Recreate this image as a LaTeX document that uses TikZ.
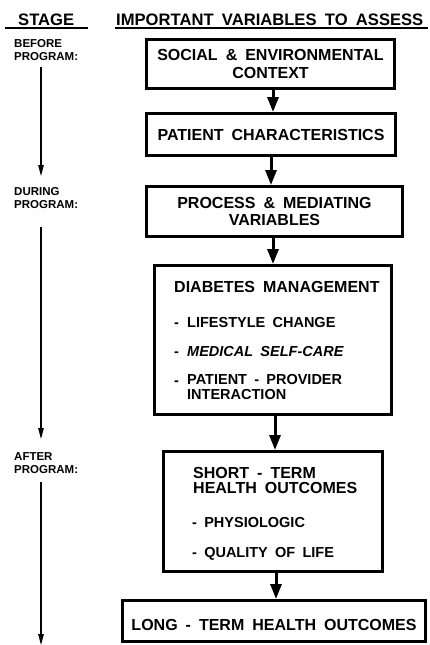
\documentclass[tikz,border=0pt]{standalone}
\usepackage{fontspec}
\setmainfont{Liberation Sans}[WordSpace=1.8]
\usetikzlibrary{arrows.meta}
\begin{document}
\begin{tikzpicture}[x=1pt,y=-1pt,
  box/.style={draw, line width=3pt, inner sep=0pt, align=center, big},
  flow/.style={line width=3pt, -{Triangle[length=15pt,width=11pt]}},
  stagearrow/.style={line width=1.3pt, -{Triangle[length=11pt,width=5.5pt]}},
  big/.style={font=\fontsize{16}{17.5}\selectfont\bfseries},
  head/.style={font=\fontsize{16.6}{17}\selectfont\bfseries},
  item/.style={font=\fontsize{14.5}{14.5}\selectfont\bfseries},
  lab/.style={font=\fontsize{11.5}{12.5}\selectfont\bfseries, align=left, anchor=base west, inner sep=0pt},
  txt/.style={anchor=base west, inner sep=0pt, align=left},
  uline/.style={line width=1.3pt}
]
\useasboundingbox (0,0) rectangle (429,645);

% headers
\node[txt, head] (hstage) at (18,25) {STAGE};
\node[txt, head] (hvars) at (116,25) {IMPORTANT VARIABLES TO ASSESS};
\coordinate (u1a) at (5,28); \coordinate (u1b) at (88,28);
\coordinate (u2a) at (115,28); \coordinate (u2b) at (428,28);
\draw[uline] (u1a) -- (u1b);
\draw[uline] (u2a) -- (u2b);

% stage labels (base = baseline of last line)
\node[lab] (before) at (14,60) {BEFORE\\PROGRAM:};
\node[lab] (during) at (14,208) {DURING\\PROGRAM:};
\node[lab] (after) at (14,473) {AFTER\\PROGRAM:};

\coordinate (s1a) at (41,67);  \coordinate (s1b) at (41,176);
\coordinate (s2a) at (41,227); \coordinate (s2b) at (41,439);
\coordinate (s3a) at (41,482); \coordinate (s3b) at (41,645);
\draw[stagearrow] (s1a) -- (s1b);
\draw[stagearrow] (s2a) -- (s2b);
\draw[stagearrow] (s3a) -- (s3b);

% boxes
\node[box, minimum width=248pt, minimum height=49pt] (b1) at (270.5,64)
  {SOCIAL \& ENVIRONMENTAL\\CONTEXT};
\node[box, minimum width=249pt, minimum height=42pt] (b2) at (271,134.5)
  {PATIENT CHARACTERISTICS};
\node[box, minimum width=256pt, minimum height=50pt] (b3) at (274.5,211.5)
  {PROCESS \& MEDIATING\\VARIABLES};
\node[box, minimum width=237pt, minimum height=149pt] (b4) at (273,340) {};
\node[box, minimum width=219pt, minimum height=120pt] (b5) at (273,511.5) {};
\node[box, minimum width=303pt, minimum height=41pt] (b6) at (274,621) {};

% box 4 contents
\node[txt, big] (dm) at (174,292.5) {DIABETES MANAGEMENT};
\node[txt, item] (d1) at (174,327) {-};
\node[txt, item] (i1) at (187,327) {LIFESTYLE CHANGE};
\node[txt, item] (d2) at (174,356.5) {-};
\node[txt, item] (i2) at (187,356.5) {\itshape MEDICAL SELF-CARE};
\node[txt, item] (d3) at (174,385) {-};
\node[txt, item] (i3) at (187,399) {PATIENT - PROVIDER\\INTERACTION};

% box 5 contents
\node[txt, font=\fontsize{16}{15}\selectfont\bfseries] (st) at (193,493.5) {SHORT - TERM\\HEALTH OUTCOMES};
\node[txt, item] (p1) at (192,527.5) {- PHYSIOLOGIC};
\node[txt, item] (p2) at (192,557) {- QUALITY OF LIFE};

% box 6 contents
\node[anchor=base, inner sep=0pt, big] (lt) at (274,630.5) {LONG - TERM HEALTH OUTCOMES};

% connectors
\draw[flow] ([xshift=2.5pt]b1.south) -- ([xshift=2.5pt]b1.south |- b2.north);
\draw[flow] (b2.south) -- (b2.south |- b3.north);
\draw[flow] (b4.north |- b3.south) -- (b4.north);
\draw[flow] ([xshift=2pt]b4.south) -- ([xshift=2pt]b4.south |- b5.north);
\draw[flow] ([xshift=3pt]b5.south) -- ([xshift=3pt]b5.south |- b6.north);
\end{tikzpicture}
\end{document}
